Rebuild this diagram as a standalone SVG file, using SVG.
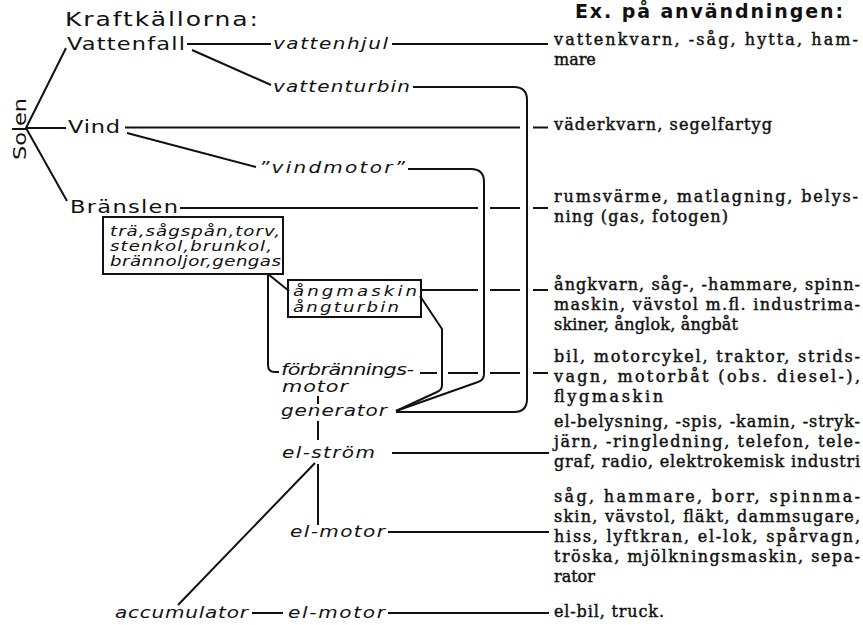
<svg xmlns="http://www.w3.org/2000/svg" width="863" height="625" viewBox="0 0 863 625">
<style>
.ln{stroke:#111;stroke-width:2;fill:none;stroke-linejoin:round}
.bx{stroke:#111;stroke-width:2;fill:none}
.lab{font-family:"DejaVu Sans","Liberation Sans",sans-serif;font-size:18px;fill:#111}
.hd{font-family:"DejaVu Sans","Liberation Sans",sans-serif;font-size:20px;fill:#111}
.it{font-family:"DejaVu Sans","Liberation Sans",sans-serif;font-style:oblique;font-size:16px;fill:#111}
.bi{font-family:"DejaVu Sans","Liberation Sans",sans-serif;font-style:oblique;font-size:14px;fill:#111}
.ex{font-family:"DejaVu Serif","Liberation Serif",serif;font-size:16px;fill:#111;stroke:#111;stroke-width:0.45}
.exh{font-family:"DejaVu Sans","Liberation Sans",sans-serif;font-weight:bold;font-size:19px;fill:#111}
</style>
<rect width="863" height="625" fill="#fff"/>

<g id="headings">
<text class="hd" transform="translate(65,26) scale(1.25,1)" textLength="154.4" lengthAdjust="spacing">Kraftkällorna:</text>
<text class="exh" x="575" y="18" textLength="268" lengthAdjust="spacing">Ex. på användningen:</text>
</g>

<g id="node-solen"><text class="lab" font-size="20" transform="translate(26,160) rotate(-90) scale(1.25,1)" textLength="49.6" lengthAdjust="spacing">Solen</text></g>
<g id="node-vattenfall"><text class="lab" transform="translate(67,50) scale(1.25,1)" textLength="94.4" lengthAdjust="spacing">Vattenfall</text></g>
<g id="node-vind"><text class="lab" transform="translate(68,133) scale(1.25,1)" textLength="41.6" lengthAdjust="spacing">Vind</text></g>
<g id="node-branslen"><text class="lab" transform="translate(70,213) scale(1.25,1)" textLength="86.4" lengthAdjust="spacing">Bränslen</text></g>

<g id="node-vattenhjul"><text class="it" transform="translate(273,49) scale(1.25,1)" textLength="92" lengthAdjust="spacing">vattenhjul</text></g>
<g id="node-vattenturbin"><text class="it" transform="translate(273,92) scale(1.25,1)" textLength="109.6" lengthAdjust="spacing">vattenturbin</text></g>
<g id="node-vindmotor"><text class="it" transform="translate(259,173) scale(1.25,1)" textLength="116.8" lengthAdjust="spacing">”vindmotor”</text></g>

<g id="node-fuels">
<rect class="bx" x="103" y="217" width="180" height="57"/>
<text class="bi" transform="translate(110,236) scale(1.3,1)" textLength="130.8" lengthAdjust="spacing">trä,sågspån,torv,</text>
<text class="bi" transform="translate(110,251) scale(1.3,1)" textLength="124.6" lengthAdjust="spacing">stenkol,brunkol,</text>
<text class="bi" transform="translate(110,266) scale(1.3,1)" textLength="131.5" lengthAdjust="spacing">brännoljor,gengas</text>
</g>

<g id="node-angmaskin">
<rect class="bx" x="288" y="280" width="133" height="37"/>
<text class="bi" transform="translate(293,296) scale(1.3,1)" textLength="95.4" lengthAdjust="spacing">ångmaskin</text>
<text class="bi" transform="translate(293,312) scale(1.3,1)" textLength="81.5" lengthAdjust="spacing">ångturbin</text>
</g>

<g id="node-forbranningsmotor">
<text class="it" font-size="15" transform="translate(281,375) scale(1.3,1)" textLength="102.3" lengthAdjust="spacing">förbrännings-</text>
<text class="it" font-size="15" transform="translate(282,392) scale(1.3,1)" textLength="50.8" lengthAdjust="spacing">motor</text>
</g>
<g id="node-generator"><text class="it" transform="translate(281,416) scale(1.25,1)" textLength="84.8" lengthAdjust="spacing">generator</text></g>
<g id="node-elstrom"><text class="it" transform="translate(282,458) scale(1.25,1)" textLength="74.4" lengthAdjust="spacing">el-ström</text></g>
<g id="node-elmotor"><text class="it" transform="translate(290,537) scale(1.25,1)" textLength="76" lengthAdjust="spacing">el-motor</text></g>
<g id="node-accumulator"><text class="it" transform="translate(115,618) scale(1.25,1)" textLength="106.4" lengthAdjust="spacing">accumulator</text></g>
<g id="node-elmotor2"><text class="it" transform="translate(288,618) scale(1.25,1)" textLength="77.6" lengthAdjust="spacing">el-motor</text></g>

<g id="uses">
<text class="ex" x="554" y="45" textLength="304" lengthAdjust="spacing">vattenkvarn, -såg, hytta, ham-</text>
<text class="ex" x="554" y="65">mare</text>
<text class="ex" x="554" y="130" textLength="218" lengthAdjust="spacing">väderkvarn, segelfartyg</text>
<text class="ex" x="554" y="202" textLength="304" lengthAdjust="spacing">rumsvärme, matlagning, belys-</text>
<text class="ex" x="554" y="222" textLength="174" lengthAdjust="spacing">ning (gas, fotogen)</text>
<text class="ex" x="554" y="290" textLength="306" lengthAdjust="spacing">ångkvarn, såg-, -hammare, spinn-</text>
<text class="ex" x="554" y="310" textLength="306" lengthAdjust="spacing">maskin, vävstol m.fl. industrima-</text>
<text class="ex" x="554" y="330" textLength="184" lengthAdjust="spacing">skiner, ånglok, ångbåt</text>
<text class="ex" x="554" y="362" textLength="306" lengthAdjust="spacing">bil, motorcykel, traktor, strids-</text>
<text class="ex" x="554" y="382" textLength="306" lengthAdjust="spacing">vagn, motorbåt (obs. diesel-),</text>
<text class="ex" x="554" y="402" textLength="109" lengthAdjust="spacing">flygmaskin</text>
<text class="ex" x="554" y="427" textLength="306" lengthAdjust="spacing">el-belysning, -spis, -kamin, -stryk-</text>
<text class="ex" x="554" y="447" textLength="306" lengthAdjust="spacing">järn, -ringledning, telefon, tele-</text>
<text class="ex" x="554" y="467" textLength="306" lengthAdjust="spacing">graf, radio, elektrokemisk industri</text>
<text class="ex" x="554" y="502" textLength="306" lengthAdjust="spacing">såg, hammare, borr, spinnma-</text>
<text class="ex" x="554" y="522" textLength="306" lengthAdjust="spacing">skin, vävstol, fläkt, dammsugare,</text>
<text class="ex" x="554" y="542" textLength="306" lengthAdjust="spacing">hiss, lyftkran, el-lok, spårvagn,</text>
<text class="ex" x="554" y="562" textLength="306" lengthAdjust="spacing">tröska, mjölkningsmaskin, sepa-</text>
<text class="ex" x="554" y="582">rator</text>
<text class="ex" x="554" y="617" textLength="110" lengthAdjust="spacing">el-bil, truck.</text>
</g>

<g id="connectors">
<path class="ln" d="M66,48 L26,128 L66,128 M26,128 L67,201"/>
<path class="ln" d="M187,44 L271,44"/>
<path class="ln" d="M192,50 L271,85"/>
<path class="ln" d="M392,44 L548,44"/>
<path class="ln" d="M125,127.5 L520,127.5 M533,127.5 L548,127.5"/>
<path class="ln" d="M127,133 L256,167"/>
<path class="ln" d="M180,208 L478,208 M490,208 L520,208 M533,208 L548,208"/>
<path class="ln" d="M421,290 L478,290 M490,290 L520,290 M533,290 L548,290"/>
<path class="ln" d="M420,373 L437,373 M448,373 L478,373 M490,373 L520,373 M533,373 L548,373"/>
<path class="ln" d="M413,87 L514,87 Q527,87 527,100 L527,399 Q527,412 514,412 L396,412"/>
<path class="ln" d="M408,169 L471,169 Q484,169 484,182 L484,374 Q484,380 478,382 L396,411"/>
<path class="ln" d="M420,296 L442,329 L442,385 Q442,390 437,392 L396,411"/>
<path class="ln" d="M268,274 L268,365 Q268,372 275,372 L279,372"/>
<path class="ln" d="M268,274 L289,291"/>
<path class="ln" d="M318,396 L318,404"/>
<path class="ln" d="M318,421 L318,440"/>
<path class="ln" d="M318,464 L318,525"/>
<path class="ln" d="M315,463 L178,605"/>
<path class="ln" d="M392,453 L549,453"/>
<path class="ln" d="M388,532 L549,532"/>
<path class="ln" d="M252,613 L283,613"/>
<path class="ln" d="M388,613 L549,613"/>
</g>
</svg>
